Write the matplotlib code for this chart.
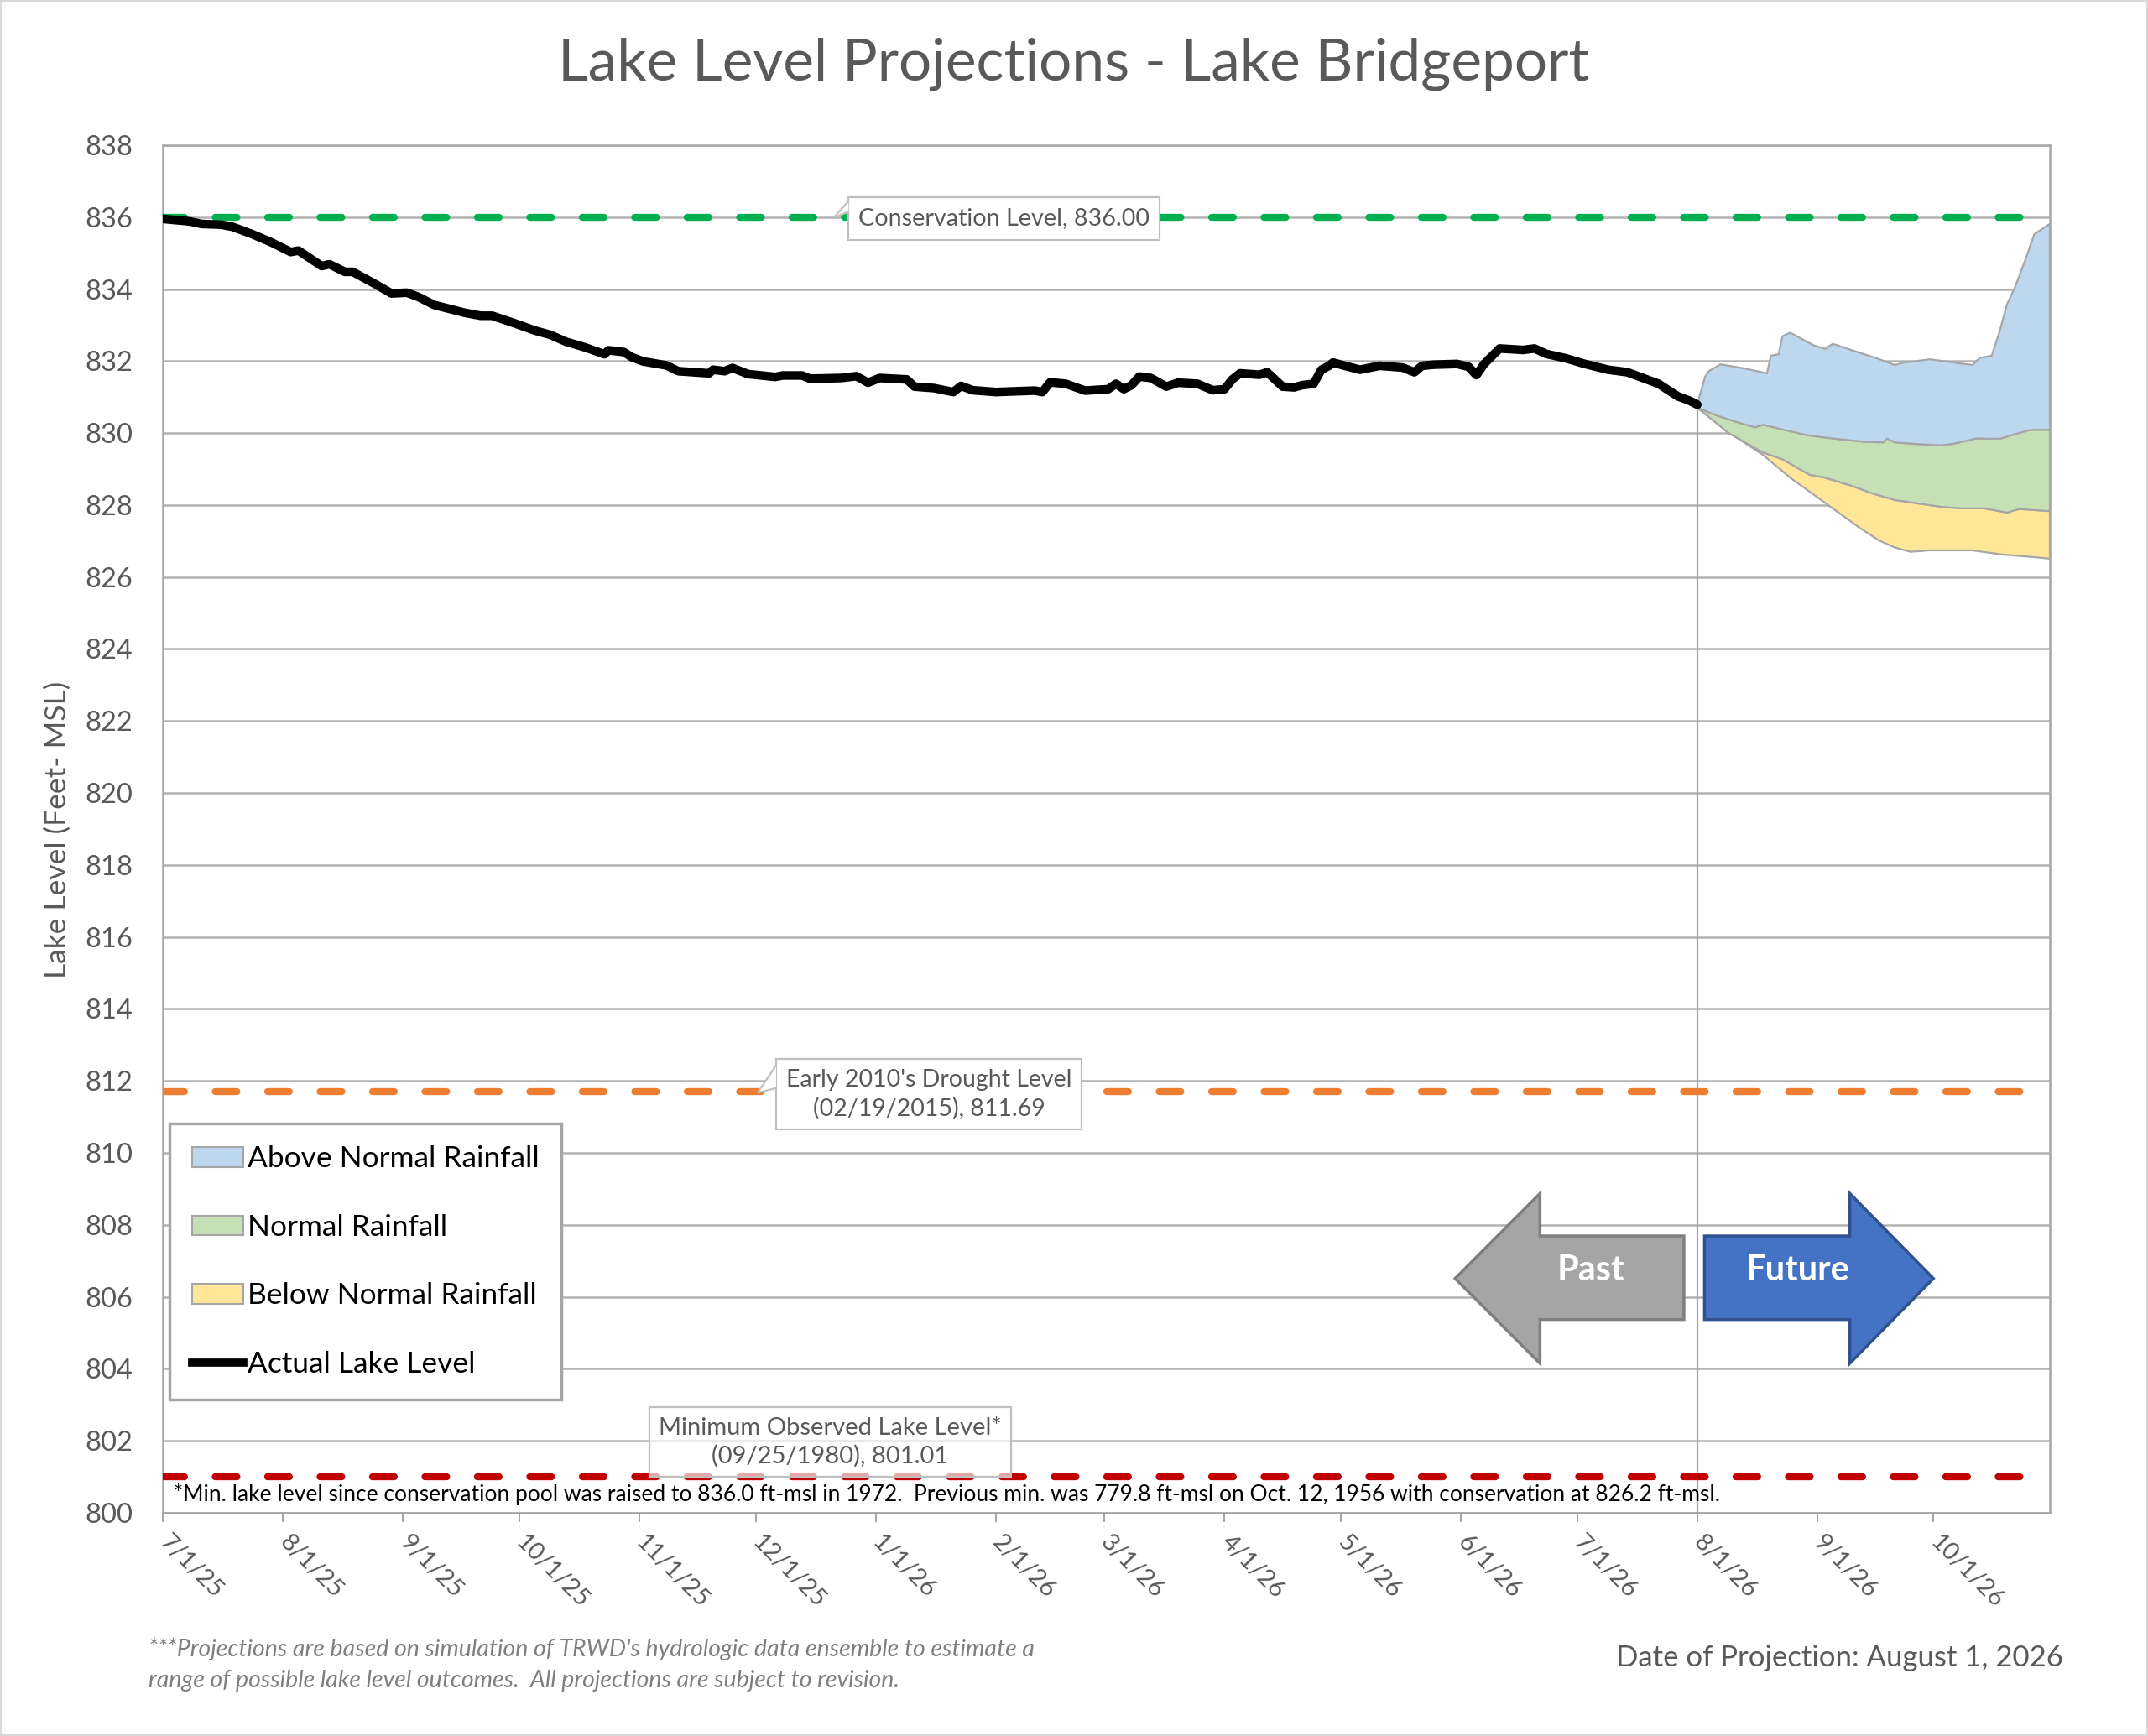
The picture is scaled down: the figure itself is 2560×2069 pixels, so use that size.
import numpy as np
import pandas as pd
import matplotlib
matplotlib.use("Agg")
import matplotlib.pyplot as plt
import matplotlib.dates as mdates
from matplotlib.patches import Polygon, Patch, Rectangle
from matplotlib.lines import Line2D
from matplotlib.transforms import blended_transform_factory

plt.rcParams['font.family'] = ['Lato', 'DejaVu Sans']

# --- data -------------------------------------------------------------
start = pd.Timestamp('2025-07-01')

# actual lake level, days after 7/1/25
actual_day = [0, 7, 10, 15, 18, 23, 28, 33, 35, 41, 43, 47, 49, 55, 59, 63, 66, 70,
              78, 82, 85, 90, 96, 100, 104, 109, 114, 115, 119, 121, 124, 130, 133,
              141, 142, 145, 147, 151, 158, 160, 165, 167, 175, 179, 182, 185, 192,
              194, 199, 204, 206, 209, 215, 225, 227, 229, 233, 238, 244, 246, 248,
              250, 252, 255, 259, 262, 267, 271, 274, 276, 278, 283, 285, 289, 292,
              294, 297, 299, 301, 302, 305, 309, 314, 320, 323, 325, 328, 334, 337,
              339, 341, 345, 351, 354, 357, 362, 367, 373, 378, 382, 386, 391, 394, 396]
actual_ft = [835.95, 835.88, 835.81, 835.79, 835.73, 835.53, 835.30, 835.03, 835.07,
             834.64, 834.69, 834.48, 834.48, 834.13, 833.88, 833.90, 833.78, 833.56,
             833.34, 833.26, 833.26, 833.08, 832.85, 832.73, 832.54, 832.38, 832.19,
             832.30, 832.25, 832.11, 831.99, 831.88, 831.72, 831.66, 831.76, 831.72,
             831.81, 831.64, 831.56, 831.60, 831.60, 831.51, 831.53, 831.58, 831.40,
             831.53, 831.49, 831.29, 831.25, 831.14, 831.31, 831.19, 831.14, 831.18,
             831.14, 831.41, 831.37, 831.18, 831.22, 831.37, 831.22, 831.33, 831.57,
             831.53, 831.29, 831.40, 831.37, 831.19, 831.22, 831.49, 831.66, 831.62,
             831.69, 831.29, 831.27, 831.33, 831.37, 831.76, 831.87, 831.96, 831.87,
             831.76, 831.87, 831.82, 831.69, 831.87, 831.90, 831.92, 831.84, 831.61,
             831.92, 832.35, 832.31, 832.35, 832.20, 832.08, 831.92, 831.76, 831.69,
             831.53, 831.37, 831.02, 830.90, 830.79]

# projection envelopes
above_top_day = [396, 398, 399, 402, 408, 414, 415, 417, 418, 420, 426, 429, 431, 436,
                 442, 447, 449, 456, 463, 467, 469, 472, 474, 476, 478, 481, 483, 485, 487]
above_top_ft = [830.79, 831.56, 831.72, 831.91, 831.80, 831.66, 832.15, 832.19, 832.69,
                832.79, 832.44, 832.34, 832.48, 832.30, 832.09, 831.89, 831.95, 832.05,
                831.95, 831.89, 832.09, 832.15, 832.81, 833.59, 834.05, 834.91, 835.53,
                835.67, 835.81]
above_bot_day = [396, 401, 407, 411, 413, 420, 425, 431, 439, 444, 445, 447, 452, 459,
                 462, 468, 474, 478, 482, 487]
above_bot_ft = [830.71, 830.49, 830.28, 830.16, 830.23, 830.05, 829.93, 829.85, 829.76,
                829.74, 829.85, 829.74, 829.70, 829.66, 829.70, 829.85, 829.84, 829.97,
                830.09, 830.09]
normal_bot_day = [396, 404, 409, 413, 418, 425, 429, 436, 441, 447, 452, 459, 464, 470,
                  476, 479, 487]
normal_bot_ft = [830.71, 830.01, 829.70, 829.46, 829.27, 828.84, 828.76, 828.53, 828.33,
                 828.14, 828.06, 827.95, 827.91, 827.91, 827.79, 827.89, 827.83]
below_bot_day = [396, 406, 413, 420, 429, 438, 443, 447, 451, 456, 467, 475, 481, 487]
below_bot_ft = [830.71, 829.89, 829.39, 828.76, 828.06, 827.36, 827.01, 826.82, 826.70,
                826.74, 826.74, 826.62, 826.57, 826.51]

conservation = 836.00
drought = 811.69
minimum = 801.01
projection_day = 396

legend_labels = ['Above Normal Rainfall', 'Normal Rainfall', 'Below Normal Rainfall',
                 'Actual Lake Level']
band_colors = ['#BDD7EE', '#C5E0B4', '#FFE699']


def to_num(days):
    return mdates.date2num((start + pd.to_timedelta(days, unit='D')).to_numpy())


# --- figure -----------------------------------------------------------
fig = plt.figure(figsize=(25.6, 20.69), dpi=100)
ax = fig.add_axes([0.0758, 0.1286, 0.8785, 0.7878])
tr = blended_transform_factory(ax.transAxes, ax.transData)

ax.set_ylim(800, 838)
ax.set_yticks(np.arange(800, 839, 2))
ax.set_xlim(to_num([0])[0], to_num([487])[0])
ax.yaxis.grid(True, color='#B3B3B3', lw=1.8, zorder=0)
ax.set_axisbelow(True)
for s in ax.spines.values():
    s.set_color('#A6A6A6')
    s.set_linewidth(1.8)

months = pd.date_range('2025-07-01', '2026-10-01', freq='MS')
ax.set_xticks(mdates.date2num(months.to_numpy()))
ax.set_xticklabels([f"{d.month}/{d.day}/{d.year % 100}" for d in months],
                   rotation=-45, ha='left', va='center', rotation_mode='anchor')
ax.tick_params(axis='x', length=8, width=1.5, color='#A6A6A6', labelsize=21,
               labelcolor='#595959', pad=14)
ax.tick_params(axis='y', length=0, labelsize=23.5, labelcolor='#595959', pad=26)

# projection bands (drawn bottom-up)
def band(top_d, top_v, bot_d, bot_v, color):
    xs = np.r_[to_num(top_d), to_num(bot_d)[::-1]]
    ys = np.r_[top_v, bot_v[::-1]]
    ax.fill(xs, ys, facecolor=color, edgecolor='#A6A6A6', lw=1.6, zorder=2)

band(normal_bot_day, normal_bot_ft, below_bot_day, below_bot_ft, band_colors[2])
band(above_bot_day, above_bot_ft, normal_bot_day, normal_bot_ft, band_colors[1])
band(above_top_day, above_top_ft, above_bot_day, above_bot_ft, band_colors[0])

ax.vlines(to_num([projection_day])[0], 800, actual_ft[-1], color='#A6A6A6', lw=1.6, zorder=2)

# reference levels
for lvl, col in [(conservation, '#00B050'), (drought, '#ED7D31'), (minimum, '#C00000')]:
    ax.axhline(lvl, color=col, lw=6, dashes=(3.1, 4.4), dash_capstyle='round', zorder=3)

ax.plot(to_num(actual_day), actual_ft, color='black', lw=7.5, solid_capstyle='round',
        solid_joinstyle='round', zorder=4)

# callout boxes
box = dict(boxstyle='square,pad=0.42', fc='white', ec='#BFBFBF', lw=1.6)
ax.text(0.4459, 835.96, f'Conservation Level, {conservation:.2f}', transform=tr,
        ha='center', va='center', fontsize=20.7, color='#595959', bbox=box, zorder=6)
ax.add_patch(Polygon([(0.3634, 836.45), (0.3555, 835.98), (0.3634, 836.15)], closed=False,
                     transform=tr, fc='white', ec='#BFBFBF', lw=1.6, zorder=6))
ax.text(0.406, 811.63, f"Early 2010's Drought Level\n(02/19/2015), {drought:.2f}",
        transform=tr, ha='center', va='center', fontsize=20.5, color='#595959',
        linespacing=1.35, bbox=box, zorder=6)
ax.add_patch(Polygon([(0.3250, 812.43), (0.3152, 811.67), (0.3250, 811.80)], closed=False,
                     transform=tr, fc='white', ec='#BFBFBF', lw=1.6, zorder=6))
ax.text(0.3537, 801.96, f"Minimum Observed Lake Level*\n(09/25/1980), {minimum:.2f}",
        transform=tr, ha='center', va='center', fontsize=21, color='#595959',
        linespacing=1.3, zorder=6,
        bbox=dict(boxstyle='square,pad=0.4', fc=(1, 1, 1, 0.65), ec='#BFBFBF', lw=1.6))
ax.text(0.0058, 800.51, '*Min. lake level since conservation pool was raised to 836.0 ft-msl '
        'in 1972.  Previous min. was 779.8 ft-msl on Oct. 12, 1956 with conservation at '
        '826.2 ft-msl.', transform=tr, ha='left', va='center', fontsize=19, color='black',
        zorder=6)

# past / future arrows
past = [(0.6848, 0.1713), (0.7298, 0.2335), (0.7298, 0.2024), (0.8061, 0.2024),
        (0.8061, 0.1413), (0.7298, 0.1413), (0.7298, 0.1092)]
future = [(0.8170, 0.2024), (0.8940, 0.2024), (0.8940, 0.2335), (0.9383, 0.1713),
          (0.8940, 0.1092), (0.8940, 0.1413), (0.8170, 0.1413)]
ax.add_patch(Polygon(past, transform=ax.transAxes, fc='#A5A5A5', ec='#7F7F7F', lw=2.5, zorder=5))
ax.add_patch(Polygon(future, transform=ax.transAxes, fc='#4472C4', ec='#2F528F', lw=2.5, zorder=5))
ax.text(0.7567, 0.1774, 'Past', transform=ax.transAxes, ha='center', va='center',
        fontsize=30, fontweight='bold', color='white', zorder=6)
ax.text(0.8664, 0.1774, 'Future', transform=ax.transAxes, ha='center', va='center',
        fontsize=30, fontweight='bold', color='white', zorder=6)

# legend
handles = [Patch(fc=c, ec='#A6A6A6', lw=1.5) for c in band_colors]
handles.append(Line2D([], [], color='black', lw=7))
leg = ax.legend(handles, legend_labels, loc='upper left', bbox_to_anchor=(0.0036, 0.2846),
                fontsize=25.4, frameon=True, fancybox=False, edgecolor='#A6A6A6',
                framealpha=1, borderpad=0.75, labelspacing=1.4, handlelength=1.75,
                handleheight=0.65, handletextpad=0.12, borderaxespad=0)
leg.get_frame().set_linewidth(2.5)
leg.set_zorder(7)

# titles and notes
fig.text(0.5, 0.963, 'Lake Level Projections - Lake Bridgeport', ha='center', va='center',
         fontsize=50, color='#595959')
fig.text(0.027, 0.522, 'Lake Level (Feet- MSL)', rotation=90, ha='center', va='center',
         fontsize=25.5, color='#595959')
fig.text(0.069, 0.050, "***Projections are based on simulation of TRWD's hydrologic data "
         "ensemble to estimate a", ha='left', va='center', fontsize=20.5, style='italic',
         color='#7F7F7F')
fig.text(0.069, 0.032, "range of possible lake level outcomes.  All projections are subject "
         "to revision.", ha='left', va='center', fontsize=20.5, style='italic', color='#7F7F7F')
fig.text(0.9605, 0.045, 'Date of Projection: August 1, 2026', ha='right', va='center',
         fontsize=25, color='#595959')

fig.add_artist(Rectangle((0, 0), 1, 1, transform=fig.transFigure, fill=False,
                         ec='#D9D9D9', lw=3))

fig.savefig('out.png', dpi=100)
